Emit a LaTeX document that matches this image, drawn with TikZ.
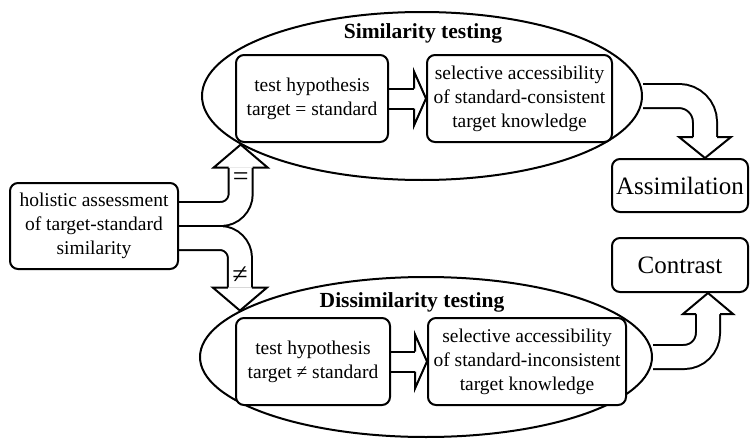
\documentclass[tikz,border=0pt]{standalone}
\usepackage{fontspec}
\setmainfont{LiberationSerif}[Extension=.ttf,UprightFont=*-Regular,BoldFont=*-Bold,ItalicFont=*-Italic,BoldItalicFont=*-BoldItalic]
\usetikzlibrary{calc}
\usetikzlibrary{shapes}
\usetikzlibrary{backgrounds}
\newcommand{\boxfont}{\fontsize{19.5}{24}\selectfont}
\newcommand{\bigfont}{\fontsize{25}{30}\selectfont}
\tikzset{
  stage/.style={draw,rectangle,rounded corners=8pt,line width=2pt,fill=white,
    align=center,inner sep=2pt,minimum height=87pt,font=\boxfont},
  outcome/.style={draw,rectangle,rounded corners=8pt,line width=2pt,fill=white,
    inner sep=2pt,minimum width=136pt,font=\bigfont},
  testing/.style={draw,ellipse,line width=2pt,inner sep=0pt},
  title/.style={font=\fontsize{21.5}{26}\selectfont\bfseries},
  band/.style={line width=2pt,double=white,double distance=#1},
  fathead/.style={draw,fill=white,line width=2pt},
  rel/.style={font=\fontsize{28}{30}\selectfont}
}
% block arrow head: base centre, tip, half shaft, half head
\newcommand{\blockhead}[4]{%
  \filldraw[fathead] ($(#1)!#3!90:(#2)$) -- ($(#1)!#4!90:(#2)$) -- (#2)
    -- ($(#1)!#4!-90:(#2)$) -- ($(#1)!#3!-90:(#2)$);
}
\begin{document}
\begin{tikzpicture}[x=1pt,y=-1pt]
      \path[use as bounding box] (0,0) rectangle (750,439);

      % Assessment {{{

      \node[stage,minimum width=168pt,minimum height=86pt] (holistic) at (94,226)
        {holistic assessment\\of target-standard\\similarity};

      % }}}

      % Similarity testing {{{

      \node[testing,minimum width=440pt,minimum height=168pt] (simell) at (422,96) {};
      \node[title] (simtitle) at (423,33) {Similarity testing};
      \node[stage,minimum width=152pt] (testsim) at (312,98.5)
        {test hypothesis\\target = standard};
      \node[stage,minimum width=185pt] (selsim) at (519.5,98.5)
        {selective accessibility\\of standard-consistent\\target knowledge};

      % }}}

      % Dissimilarity testing {{{

      \node[testing,minimum width=452pt,minimum height=160pt] (disell) at (426,357) {};
      \node[title] (distitle) at (412,302) {Dissimilarity testing};
      \node[stage,minimum width=154pt] (testdis) at (313,361.5)
        {test hypothesis\\target ≠ standard};
      \node[stage,minimum width=198pt] (seldis) at (527,361.5)
        {selective accessibility\\of standard-inconsistent\\target knowledge};

      % }}}

      % Outcomes {{{

      \node[outcome,minimum height=53pt] (assim) at (680,185.5) {Assimilation};
      \node[outcome,minimum height=54pt] (contr) at (680,265) {Contrast};

      % }}}

      % Block arrows {{{

      \coordinate (eqtip) at (simell.195);
      \coordinate (eqbase) at ($(eqtip)+(0,23)$);
      \coordinate (neqtip) at (disell.166);
      \coordinate (neqbase) at ($(neqtip)+(0,-23)$);
      \coordinate (astip) at ($(assim.north)+(25,0)$);
      \coordinate (asbase) at ($(astip)+(0,-21)$);
      \coordinate (cotip) at ($(contr.south)+(28,0)$);
      \coordinate (cobase) at ($(cotip)+(0,21)$);
      \coordinate (simtip) at (selsim.west);
      \coordinate (simbase) at ($(simtip)+(-12,0)$);
      \coordinate (distip) at (seldis.west);
      \coordinate (disbase) at ($(distip)+(-12,0)$);

      \begin{pgfonlayer}{background}
        \draw[band=22pt,rounded corners=20pt]
          ($(holistic.east)+(0,-12)$) -| (eqbase);
        \draw[band=22pt,rounded corners=20pt]
          ($(holistic.east)+(0,12)$) -| (neqbase);
        \draw[band=22pt,rounded corners=26pt] (simell.east) -| (asbase);
        \draw[band=22pt,rounded corners=24pt] (disell.east) -| (cobase);
        \draw[band=18pt] (testsim.east) -- (simbase);
        \draw[band=18pt] (testdis.east) -- (disbase);
        \blockhead{eqbase}{eqtip}{12pt}{27pt}
        \blockhead{neqbase}{neqtip}{12pt}{27pt}
        \blockhead{asbase}{astip}{12pt}{26pt}
        \blockhead{cobase}{cotip}{12pt}{25pt}
        \blockhead{simbase}{simtip}{10pt}{27pt}
        \blockhead{disbase}{distip}{10pt}{27pt}
      \end{pgfonlayer}

      \node[rel] (eqlabel) at ($(eqbase)+(0,12)$) {=};
      \node[rel] (neqlabel) at ($(neqbase)+(0,-12)$) {≠};

      % }}}

    \end{tikzpicture}
\end{document}
